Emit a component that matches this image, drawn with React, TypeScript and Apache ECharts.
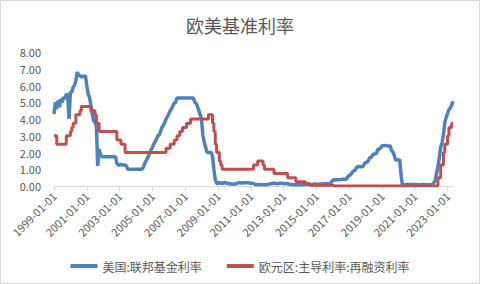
import React, { useEffect, useRef } from "react";
import * as echarts from "echarts";

const title = "欧美基准利率";
const seriesNames = ["美国:联邦基金利率", "欧元区:主导利率:再融资利率"];
const yTicks = [0, 1, 2, 3, 4, 5, 6, 7, 8];

// monthly categories 1999-01 .. 2023-05
const startYear = 1999;
const endYear = 2023;
const endMonth = 5;
const months: string[] = [];
for (let y = startYear; y <= endYear; y++) {
  for (let m = 1; m <= 12; m++) {
    if (y === endYear && m > endMonth) break;
    months.push(`${y}-${m < 10 ? "0" + m : m}-01`);
  }
}

// 美国:联邦基金利率 (monthly readings)
const usRate = [
  4.3, 5.0, 4.6, 5.1, 4.7, 5.2, 5.0, 5.3, 5.2, 5.5, 5.4, 4.0, // 1999
  5.6, 5.6, 5.9, 6.0, 6.3, 6.8, 6.6, 6.6, 6.5, 6.55, 6.5, 6.6, // 2000
  6.0, 5.5, 5.3, 4.8, 4.3, 3.9, 3.8, 3.6, 1.2, 2.2, 1.9, 1.75, // 2001
  1.75, 1.75, 1.75, 1.75, 1.75, 1.75, 1.75, 1.75, 1.75, 1.75, 1.35, 1.25, // 2002
  1.25, 1.3, 1.25, 1.25, 1.25, 1.2, 1.0, 1.0, 1.0, 1.0, 1.0, 1.0, // 2003
  1.0, 1.0, 1.0, 1.0, 1.0, 1.05, 1.25, 1.45, 1.6, 1.75, 1.95, 2.15, // 2004
  2.3, 2.5, 2.65, 2.8, 3.0, 3.05, 3.25, 3.5, 3.6, 3.8, 4.0, 4.15, // 2005
  4.3, 4.5, 4.6, 4.8, 4.95, 5.0, 5.25, 5.25, 5.25, 5.25, 5.25, 5.25, // 2006
  5.25, 5.25, 5.25, 5.25, 5.25, 5.25, 5.25, 5.0, 4.95, 4.75, 4.5, 4.25, // 2007
  3.95, 3.0, 2.6, 2.3, 2.0, 2.0, 2.0, 2.0, 1.8, 1.0, 0.4, 0.15, // 2008
  0.15, 0.22, 0.18, 0.15, 0.18, 0.21, 0.16, 0.16, 0.15, 0.12, 0.12, 0.12, // 2009
  0.11, 0.13, 0.16, 0.2, 0.2, 0.18, 0.18, 0.19, 0.19, 0.19, 0.19, 0.18, // 2010
  0.17, 0.16, 0.14, 0.1, 0.09, 0.09, 0.07, 0.1, 0.08, 0.07, 0.08, 0.07, // 2011
  0.08, 0.1, 0.13, 0.14, 0.16, 0.16, 0.16, 0.13, 0.14, 0.16, 0.16, 0.16, // 2012
  0.14, 0.15, 0.14, 0.15, 0.11, 0.09, 0.09, 0.08, 0.08, 0.09, 0.08, 0.09, // 2013
  0.07, 0.07, 0.08, 0.09, 0.09, 0.1, 0.09, 0.09, 0.09, 0.09, 0.09, 0.12, // 2014
  0.11, 0.11, 0.11, 0.12, 0.12, 0.13, 0.13, 0.14, 0.14, 0.12, 0.12, 0.24, // 2015
  0.34, 0.38, 0.36, 0.37, 0.37, 0.38, 0.39, 0.4, 0.4, 0.4, 0.41, 0.54, // 2016
  0.65, 0.66, 0.79, 0.9, 0.91, 1.04, 1.15, 1.16, 1.15, 1.15, 1.16, 1.3, // 2017
  1.41, 1.42, 1.51, 1.69, 1.7, 1.82, 1.91, 1.91, 1.95, 2.19, 2.2, 2.27, // 2018
  2.4, 2.4, 2.41, 2.42, 2.39, 2.38, 2.4, 2.13, 2.04, 1.83, 1.55, 1.55, // 2019
  1.55, 1.58, 0.65, 0.05, 0.05, 0.08, 0.09, 0.1, 0.09, 0.09, 0.09, 0.09, // 2020
  0.09, 0.08, 0.07, 0.07, 0.06, 0.08, 0.1, 0.09, 0.08, 0.08, 0.08, 0.08, // 2021
  0.08, 0.08, 0.2, 0.33, 0.77, 1.21, 1.68, 2.33, 2.56, 3.08, 3.78, 4.1, // 2022
  4.33, 4.57, 4.65, 4.83, 5.06, // 2023
];

// 欧元区:主导利率:再融资利率 (monthly readings)
const euRate = [
  3.0, 3.0, 3.0, 2.5, 2.5, 2.5, 2.5, 2.5, 2.5, 2.5, 3.0, 3.0, // 1999
  3.0, 3.25, 3.5, 3.75, 3.75, 4.25, 4.25, 4.25, 4.5, 4.75, 4.75, 4.75, // 2000
  4.75, 4.75, 4.75, 4.75, 4.5, 4.5, 4.5, 4.25, 3.75, 3.75, 3.25, 3.25, // 2001
  3.25, 3.25, 3.25, 3.25, 3.25, 3.25, 3.25, 3.25, 3.25, 3.25, 3.25, 2.75, // 2002
  2.75, 2.75, 2.5, 2.5, 2.5, 2.0, 2.0, 2.0, 2.0, 2.0, 2.0, 2.0, // 2003
  2.0, 2.0, 2.0, 2.0, 2.0, 2.0, 2.0, 2.0, 2.0, 2.0, 2.0, 2.0, // 2004
  2.0, 2.0, 2.0, 2.0, 2.0, 2.0, 2.0, 2.0, 2.0, 2.0, 2.0, 2.25, // 2005
  2.25, 2.25, 2.5, 2.5, 2.5, 2.75, 2.75, 3.0, 3.0, 3.25, 3.25, 3.5, // 2006
  3.5, 3.5, 3.75, 3.75, 3.75, 4.0, 4.0, 4.0, 4.0, 4.0, 4.0, 4.0, // 2007
  4.0, 4.0, 4.0, 4.0, 4.0, 4.0, 4.25, 4.25, 4.25, 3.75, 3.25, 2.5, // 2008
  2.0, 2.0, 1.5, 1.25, 1.0, 1.0, 1.0, 1.0, 1.0, 1.0, 1.0, 1.0, // 2009
  1.0, 1.0, 1.0, 1.0, 1.0, 1.0, 1.0, 1.0, 1.0, 1.0, 1.0, 1.0, // 2010
  1.0, 1.0, 1.0, 1.25, 1.25, 1.25, 1.5, 1.5, 1.5, 1.5, 1.25, 1.0, // 2011
  1.0, 1.0, 1.0, 1.0, 1.0, 1.0, 0.75, 0.75, 0.75, 0.75, 0.75, 0.75, // 2012
  0.75, 0.75, 0.75, 0.75, 0.5, 0.5, 0.5, 0.5, 0.5, 0.5, 0.25, 0.25, // 2013
  0.25, 0.25, 0.25, 0.25, 0.25, 0.15, 0.15, 0.15, 0.05, 0.05, 0.05, 0.05, // 2014
  0.05, 0.05, 0.05, 0.05, 0.05, 0.05, 0.05, 0.05, 0.05, 0.05, 0.05, 0.05, // 2015
  0.05, 0.05, 0, 0, 0, 0, 0, 0, 0, 0, 0, 0, // 2016
  0, 0, 0, 0, 0, 0, 0, 0, 0, 0, 0, 0, // 2017
  0, 0, 0, 0, 0, 0, 0, 0, 0, 0, 0, 0, // 2018
  0, 0, 0, 0, 0, 0, 0, 0, 0, 0, 0, 0, // 2019
  0, 0, 0, 0, 0, 0, 0, 0, 0, 0, 0, 0, // 2020
  0, 0, 0, 0, 0, 0, 0, 0, 0, 0, 0, 0, // 2021
  0, 0, 0, 0, 0, 0, 0.5, 0.5, 1.25, 1.25, 2.0, 2.5, // 2022
  2.5, 3.0, 3.5, 3.5, 3.75, // 2023
];

const FONT = "'Noto Sans CJK SC', 'Noto Sans', sans-serif";
const TEXT = "#595959";

export default function App() {
  const ref = useRef<HTMLDivElement>(null);
  useEffect(() => {
    document.body.style.margin = "0";
    const chart = echarts.init(ref.current!, null, { renderer: "svg" });
    chart.setOption({
      animation: false,
      textStyle: { fontFamily: FONT },
      title: {
        text: title,
        left: "center",
        top: 11,
        textStyle: { fontSize: 18, fontWeight: "normal", color: TEXT, fontFamily: FONT },
      },
      graphic: [
        {
          type: "rect",
          shape: { x: 0.5, y: 0.5, width: 479, height: 283 },
          style: { fill: "none", stroke: "#D9D9D9", lineWidth: 1 },
          silent: true,
        },
      ],
      legend: {
        top: 255,
        left: "center",
        icon: "rect",
        itemWidth: 27,
        itemHeight: 4,
        itemGap: 25,
        textStyle: { fontSize: 12, color: TEXT, fontFamily: FONT },
        data: seriesNames,
      },
      grid: { left: 54, right: 27, top: 52, bottom: 98, containLabel: false },
      xAxis: {
        type: "category",
        data: months,
        boundaryGap: false,
        axisLine: { lineStyle: { color: "#D9D9D9", width: 1 } },
        axisTick: { show: true, interval: 23, length: 5, lineStyle: { color: "#D9D9D9" } },
        axisLabel: {
          interval: 23,
          rotate: 45,
          fontSize: 11,
          color: TEXT,
          margin: 8,
          fontFamily: FONT,
        },
        splitLine: { show: false },
      },
      yAxis: {
        type: "value",
        min: yTicks[0],
        max: yTicks[yTicks.length - 1],
        interval: 1,
        axisLine: { show: false },
        axisTick: { show: false },
        splitLine: { show: false },
        axisLabel: {
          fontSize: 11,
          color: TEXT,
          margin: 13,
          fontFamily: FONT,
          formatter: (v: number) => v.toFixed(2),
        },
      },
      series: [
        {
          name: seriesNames[0],
          type: "line",
          data: usRate,
          showSymbol: false,
          symbol: "none",
          lineStyle: { color: "#4F81BD", width: 3.5 },
          itemStyle: { color: "#4F81BD" },
        },
        {
          name: seriesNames[1],
          type: "line",
          data: euRate,
          step: "start",
          showSymbol: false,
          symbol: "none",
          lineStyle: { color: "#C0504D", width: 3 },
          itemStyle: { color: "#C0504D" },
        },
      ],
    });
    return () => chart.dispose();
  }, []);
  return <div ref={ref} style={{ width: 480, height: 284 }} />;
}
